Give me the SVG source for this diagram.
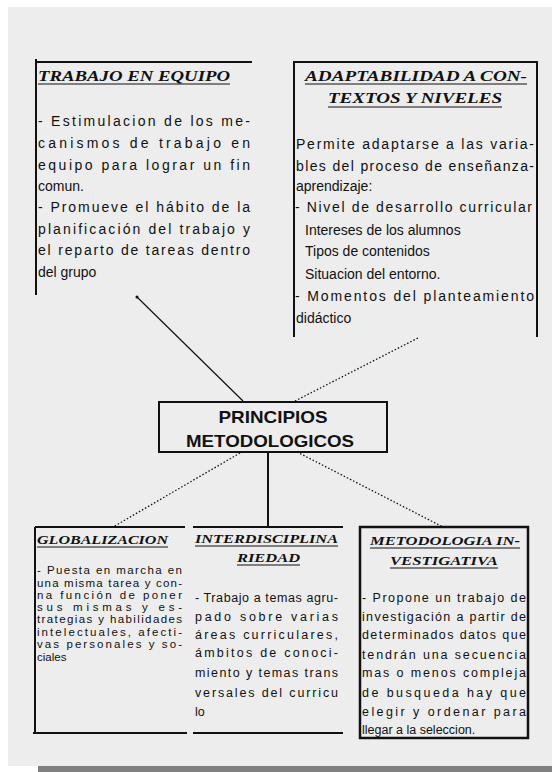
<svg xmlns="http://www.w3.org/2000/svg" width="552" height="772" viewBox="0 0 552 772">
<style>
.ttl{font-family:"Liberation Serif","Times New Roman",serif;font-weight:bold;font-style:italic;fill:#111}
.bd{font-family:"Liberation Sans",Arial,sans-serif;fill:#111}
.ln{stroke:#111;fill:none}
.dot{stroke:#111;stroke-width:1.3;stroke-dasharray:1.5 2;fill:none}
</style>
<rect x="0" y="0" width="552" height="772" fill="#ffffff"/>
<rect x="8" y="7" width="544" height="759" fill="#ededed"/>
<rect x="38" y="766" width="514" height="6" fill="#808080"/>

<g id="connectors">
<line class="ln" stroke-width="1.2" x1="137" y1="297" x2="243" y2="401"/>
<circle cx="137" cy="297" r="1.5" fill="#111"/>
<line class="dot" x1="295" y1="401" x2="418" y2="338"/>
<line class="dot" x1="240" y1="453" x2="113" y2="527"/>
<line class="ln" stroke-width="2" x1="268" y1="452" x2="268" y2="527"/>
<line class="dot" x1="297" y1="452" x2="443" y2="527"/>
</g>

<g id="trabajo">
<path class="ln" stroke-width="2" d="M36 59 V295 M36 62 H252"/>
<text class="ttl" x="38" y="81" font-size="15" textLength="192" lengthAdjust="spacingAndGlyphs">TRABAJO EN EQUIPO</text>
<line class="ln" stroke-width="1.2" x1="38" y1="84" x2="230" y2="84"/>
<g class="bd" font-size="14">
<text x="38" y="126" textLength="212">- Estimulacion de los me-</text>
<text x="38" y="148" textLength="212">canismos de trabajo en</text>
<text x="38" y="170" textLength="212">equipo para lograr un fin</text>
<text x="38" y="191">comun.</text>
<text x="38" y="212" textLength="212">- Promueve el hábito de la</text>
<text x="38" y="234" textLength="212">planificación del trabajo y</text>
<text x="38" y="255" textLength="212">el reparto de tareas dentro</text>
<text x="38" y="277">del grupo</text>
</g>
</g>

<g id="adaptabilidad">
<path class="ln" stroke-width="2" d="M294 337 V62 H537 V337"/>
<text class="ttl" x="305" y="81" font-size="15.5" textLength="222" lengthAdjust="spacingAndGlyphs">ADAPTABILIDAD A CON-</text>
<line class="ln" stroke-width="1.2" x1="305" y1="84" x2="527" y2="84"/>
<text class="ttl" x="328" y="103" font-size="15.5" textLength="174" lengthAdjust="spacingAndGlyphs">TEXTOS Y NIVELES</text>
<line class="ln" stroke-width="1.2" x1="328" y1="107" x2="502" y2="107"/>
<g class="bd" font-size="14">
<text x="296" y="149" textLength="238">Permite adaptarse a las varia-</text>
<text x="296" y="171" textLength="238">bles del proceso de enseñanza-</text>
<text x="296" y="191">aprendizaje:</text>
<text x="295" y="212" textLength="237">- Nivel de desarrollo curricular</text>
<text x="305" y="235">Intereses de los alumnos</text>
<text x="305" y="256">Tipos de contenidos</text>
<text x="305" y="279">Situacion del entorno.</text>
<text x="295" y="301" textLength="239">- Momentos del planteamiento</text>
<text x="296" y="323">didáctico</text>
</g>
</g>

<g id="principios">
<rect x="159" y="402" width="228" height="50" fill="none" stroke="#111" stroke-width="2"/>
<text x="273" y="423" font-family="'Liberation Sans',Arial,sans-serif" font-weight="bold" font-size="17" text-anchor="middle" fill="#111" textLength="109" lengthAdjust="spacingAndGlyphs">PRINCIPIOS</text>
<text x="270" y="447" font-family="'Liberation Sans',Arial,sans-serif" font-weight="bold" font-size="17" text-anchor="middle" fill="#111" textLength="168" lengthAdjust="spacingAndGlyphs">METODOLOGICOS</text>
</g>

<g id="globalizacion">
<path class="ln" stroke-width="2" d="M35 527 V733 M35 527 H185 M33 733 H187"/>
<text class="ttl" x="37" y="544" font-size="12.5" textLength="131" lengthAdjust="spacingAndGlyphs">GLOBALIZACION</text>
<line class="ln" stroke-width="1" x1="37" y1="547" x2="168" y2="547"/>
<g class="bd" font-size="11.5">
<text x="37" y="574" textLength="145">- Puesta en marcha en</text>
<text x="37" y="587" textLength="145">una misma tarea y con-</text>
<text x="37" y="599" textLength="145">na función de poner</text>
<text x="37" y="611" textLength="145">sus mismas y es-</text>
<text x="37" y="623" textLength="145">trategias y habilidades</text>
<text x="37" y="636" textLength="145">intelectuales, afecti-</text>
<text x="37" y="648" textLength="145">vas personales y so-</text>
<text x="37" y="661">ciales</text>
</g>
</g>

<g id="interdisciplinariedad">
<path class="ln" stroke-width="2" d="M193 527 H343 M193 733 H343"/>
<text class="ttl" x="195" y="543" font-size="12.5" textLength="143" lengthAdjust="spacingAndGlyphs">INTERDISCIPLINA</text>
<line class="ln" stroke-width="1" x1="195" y1="546" x2="338" y2="546"/>
<text class="ttl" x="237" y="562" font-size="12.5" textLength="63" lengthAdjust="spacingAndGlyphs">RIEDAD</text>
<line class="ln" stroke-width="1" x1="237" y1="565" x2="300" y2="565"/>
<g class="bd" font-size="12.5">
<text x="195" y="602" textLength="143">- Trabajo a temas agru-</text>
<text x="195" y="621" textLength="143">pado sobre varias</text>
<text x="195" y="639" textLength="143">áreas curriculares,</text>
<text x="195" y="657" textLength="143">ámbitos de conoci-</text>
<text x="195" y="677" textLength="143">miento y temas trans</text>
<text x="195" y="697" textLength="143">versales del curricu</text>
<text x="195" y="716">lo</text>
</g>
</g>

<g id="metodologia">
<rect x="360" y="527" width="168" height="211" fill="none" stroke="#111" stroke-width="2.5"/>
<text class="ttl" x="370" y="545" font-size="12.5" textLength="150" lengthAdjust="spacingAndGlyphs">METODOLOGIA IN-</text>
<line class="ln" stroke-width="1" x1="370" y1="548" x2="520" y2="548"/>
<text class="ttl" x="390" y="565" font-size="12.5" textLength="108" lengthAdjust="spacingAndGlyphs">VESTIGATIVA</text>
<line class="ln" stroke-width="1" x1="390" y1="568" x2="498" y2="568"/>
<g class="bd" font-size="12.5">
<text x="362" y="602" textLength="164">- Propone un trabajo de</text>
<text x="362" y="621" textLength="164">investigación a partir de</text>
<text x="362" y="639" textLength="164">determinados datos que</text>
<text x="362" y="659" textLength="164">tendrán una secuencia</text>
<text x="362" y="677" textLength="164">mas o menos compleja</text>
<text x="362" y="697" textLength="164">de busqueda hay que</text>
<text x="362" y="716" textLength="164">elegir y ordenar para</text>
<text x="362" y="734">llegar a la seleccion.</text>
</g>
</g>
</svg>
